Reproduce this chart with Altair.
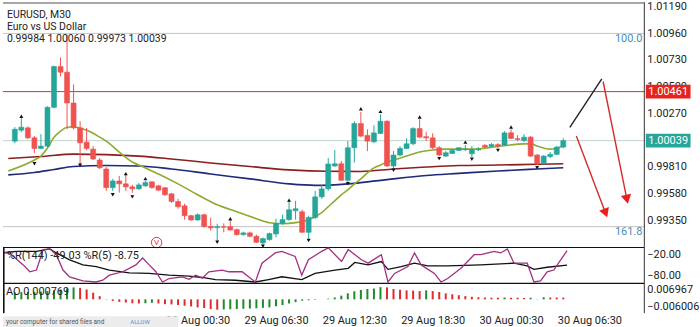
import altair as alt
import pandas as pd

FONT = "Roboto"
TEAL = "#26a69a"
RED = "#ef5350"

# ---------------- candles (M30, bar index 0..84) ----------------
opens = [1.00035, 1.00129, 1.00149, 1.00063, 0.99972, 0.99992, 1.00326, 1.00677, 1.00628, 1.00363,
         1.00149, 1.00026, 0.99966, 0.99872, 0.99795, 0.99635, 0.99692, 0.99667, 0.99641, 0.99624,
         0.99650, 0.99684, 0.99650, 0.99633, 0.99581, 0.99515, 0.99478, 0.99393, 0.99356, 0.99401,
         0.99301, 0.99290, 0.99299, 0.99299, 0.99273, 0.99230, 0.99245, 0.99216, 0.99159, 0.99187,
         0.99236, 0.99327, 0.99359, 0.99436, 0.99427, 0.99250, 0.99376, 0.99555, 0.99624, 0.99821,
         0.99840, 0.99698, 0.99978, 1.00186, 1.00084, 1.00029, 1.00101, 1.00206, 0.99821, 0.99915,
         0.99972, 1.00012, 1.00143, 1.00073, 1.00063, 0.99978, 0.99906, 0.99929, 0.99955, 0.99962,
         0.99926, 0.99960, 0.99998, 0.99989, 1.00005, 1.00000, 1.00106, 1.00056, 1.00041, 1.00069,
         0.99915, 0.99840, 0.99902, 0.99921, 0.99984]
highs = [1.00155, 1.00232, 1.00163, 1.00078, 1.00095, 1.00334, 1.00685, 1.00754, 1.00950, 1.00523,
         1.00206, 1.00149, 0.99992, 0.99889, 0.99812, 0.99710, 0.99735, 0.99744, 0.99658, 0.99675,
         0.99692, 0.99692, 0.99658, 0.99641, 0.99590, 0.99538, 0.99496, 0.99401, 0.99413, 0.99410,
         0.99376, 0.99324, 0.99327, 0.99350, 0.99282, 0.99256, 0.99256, 0.99230, 0.99205, 0.99247,
         0.99367, 0.99401, 0.99521, 0.99521, 0.99444, 0.99393, 0.99607, 0.99658, 0.99889, 0.99958,
         0.99864, 1.00035, 1.00206, 1.00285, 1.00137, 1.00172, 1.00266, 1.00214, 0.99949, 0.99992,
         1.00060, 1.00155, 1.00223, 1.00112, 1.00103, 0.99992, 0.99949, 0.99966, 0.99983, 1.00001,
         0.99992, 0.99983, 1.00009, 1.00018, 1.00018, 1.00120, 1.00137, 1.00086, 1.00095, 1.00078,
         0.99923, 0.99915, 0.99941, 0.99992, 1.00060]
lows = [1.00018, 1.00112, 1.00052, 0.99932, 0.99966, 0.99983, 1.00317, 1.00591, 1.00137, 1.00137,
        0.99838, 0.99955, 0.99872, 0.99795, 0.99607, 0.99607, 0.99592, 0.99607, 0.99590, 0.99615,
        0.99641, 0.99624, 0.99607, 0.99564, 0.99504, 0.99453, 0.99359, 0.99350, 0.99350, 0.99290,
        0.99264, 0.99173, 0.99250, 0.99264, 0.99222, 0.99222, 0.99205, 0.99160, 0.99145, 0.99179,
        0.99207, 0.99316, 0.99350, 0.99359, 0.99247, 0.99196, 0.99367, 0.99538, 0.99607, 0.99812,
        0.99692, 0.99684, 0.99849, 1.00069, 0.99949, 1.00018, 1.00095, 0.99812, 0.99804, 0.99906,
        0.99966, 1.00000, 1.00060, 1.00035, 0.99966, 0.99906, 0.99898, 0.99923, 0.99949, 0.99949,
        0.99898, 0.99949, 0.99975, 0.99983, 0.99975, 0.99992, 1.00052, 1.00035, 1.00026, 0.99898,
        0.99829, 0.99838, 0.99889, 0.99915, 0.99973]
closes = [1.00137, 1.00155, 1.00063, 0.99972, 0.99992, 1.00326, 1.00677, 1.00628, 1.00363, 1.00149,
          1.00020, 0.99972, 0.99881, 0.99806, 0.99635, 0.99692, 0.99667, 0.99641, 0.99624, 0.99658,
          0.99678, 0.99635, 0.99613, 0.99573, 0.99515, 0.99470, 0.99393, 0.99356, 0.99401, 0.99299,
          0.99288, 0.99299, 0.99294, 0.99270, 0.99230, 0.99245, 0.99216, 0.99164, 0.99196, 0.99239,
          0.99327, 0.99359, 0.99444, 0.99453, 0.99250, 0.99378, 0.99555, 0.99624, 0.99838, 0.99840,
          0.99698, 0.99978, 1.00186, 1.00078, 1.00035, 1.00106, 1.00206, 0.99821, 0.99915, 0.99972,
          1.00012, 1.00143, 1.00069, 1.00063, 0.99978, 0.99915, 0.99935, 0.99955, 0.99978, 0.99968,
          0.99964, 0.99966, 0.99983, 1.00006, 0.99992, 1.00106, 1.00058, 1.00049, 1.00069, 0.99906,
          0.99840, 0.99906, 0.99921, 0.99983, 1.00039]

# fractal markers
up_idx = [1, 17, 20, 33, 42, 53, 56, 62, 69, 76]
up_px = [1.00249, 0.99755, 0.99712, 0.99367, 0.99527, 1.00313, 1.00291, 1.00243, 1.00026, 1.00157]
down_idx = [3, 10, 15, 18, 31, 38, 45, 51, 58, 65, 70, 74, 80]
down_px = [0.99840, 0.99827, 0.99573, 0.99555, 0.99164, 0.99130, 0.99179, 0.99669, 0.99784,
           0.99884, 0.99878, 0.99955, 0.99806]

# moving averages
ma_fast_idx = [-1, 3, 4, 5, 6, 7, 8, 9, 10, 11, 12, 13, 14, 16, 18, 20, 22, 25, 28, 31,
               34, 37, 39, 41, 43, 45, 46, 47, 48, 49, 50, 51, 52, 53, 54, 55, 56, 57, 58, 60,
               62, 64, 66, 70, 74, 77, 79, 80, 81, 82, 83, 84]
ma_fast_val = [0.99778, 0.99872, 0.99906, 0.99975, 1.00069, 1.00120, 1.00154, 1.00158, 1.00146, 1.00129,
               1.00103, 1.00069, 1.00035, 0.99941, 0.99855, 0.99804, 0.99752, 0.99667, 0.99573, 0.99487,
               0.99427, 0.99367, 0.99333, 0.99324, 0.99333, 0.99359, 0.99384, 0.99419, 0.99470, 0.99521,
               0.99573, 0.99615, 0.99667, 0.99710, 0.99761, 0.99804, 0.99829, 0.99855, 0.99872, 0.99906,
               0.99941, 0.99958, 0.99966, 0.99966, 0.99988, 1.00009, 1.00013, 0.99992, 0.99975, 0.99966,
               0.99975, 0.99992]
ma_mid_idx = [-1, 4, 9, 14, 19, 24, 30, 36, 42, 48, 53, 58, 63, 68, 74, 80, 84]
ma_mid_val = [0.99885, 0.99902, 0.99923, 0.99919, 0.99906, 0.99881, 0.99847, 0.99816, 0.99787,
              0.99775, 0.99774, 0.99795, 0.99812, 0.99825, 0.99829, 0.99836, 0.99840]
ma_slow_idx = [-1, 3, 6, 9, 14, 19, 24, 30, 36, 42, 46, 51, 56, 63, 68, 74, 80, 84]
ma_slow_val = [0.99744, 0.99765, 0.99791, 0.99816, 0.99825, 0.99821, 0.99795, 0.99752, 0.99710,
               0.99667, 0.99654, 0.99667, 0.99697, 0.99739, 0.99757, 0.99778, 0.99795, 0.99806]

# horizontal levels (fib 100.0, resistance, current price, fib 161.8)
level_px = [1.00962, 1.00461, 1.00039, 0.99299]
level_col = ["#c4c4c4", "#d32f2f", "#bcd4d1", "#c4c4c4"]

# hand-drawn arrows
arrow_black_i = [85.0, 89.9]
arrow_black_p = [1.00154, 1.00571]
arrow_r1_i = [90.1, 93.7]
arrow_r1_p = [1.00548, 0.99547]
arrow_r2_i = [86.0, 90.4]
arrow_r2_p = [1.00078, 0.99427]
head_i = [93.7, 90.4]
head_p = [0.99547, 0.99427]
head_ang = [168, 159]

# price tags
tag_px = [1.00461, 1.00039]
tag_txt = ["1.00461", "1.00039"]
tag_col = ["#e5231f", "#26a69a"]

# Williams %R
wr5_idx = [-1, 0, 2, 3, 4, 5, 6, 7, 8, 9, 11, 13, 14, 15, 17, 19, 20, 21, 22, 23,
           24, 26, 27, 28, 29, 30, 32, 33, 35, 37, 38, 40, 41, 43, 44, 45, 47, 48, 50, 51,
           53, 54, 56, 57, 58, 60, 61, 62, 64, 65, 66, 68, 70, 71, 73, 74, 75, 76, 78, 79,
           80, 81, 82, 84]
wr5_val = [-13.4, -16.3, -48.6, -67.7, -62.9, -5.7, -3.7, -20, -62.9, -82,
           -93.4, -96.3, -91.4, -77.1, -67.7, -48.6, -29.4, -48.6, -67.7, -96.3,
           -86.6, -82, -88.6, -77.1, -85.7, -67.7, -62.9, -67.7, -67.7, -96.3,
           -43.7, -15.1, -10.6, -24.9, -77.1, -34.3, -10.6, -0.9, -39.1, -5.7,
           -34.3, -43.7, -20, -96.3, -72.3, -53.4, -15.1, -48.6, -72.3, -96.3,
           -86.6, -58, -20, -20, -10.6, -15.1, -3.7, -43.7, -43.7, -96.3,
           -93.4, -67.7, -62.9, -8.75]
wr144_idx = [-1, 1, 4, 6, 7, 9, 11, 13, 15, 18, 21, 24, 27, 29, 31, 34, 37, 39, 41, 44,
             46, 49, 51, 52, 54, 56, 57, 59, 61, 63, 66, 71, 74, 76, 78, 79, 81, 84]
wr144_val = [-14.6, -10.9, -10.9, -3.7, -15.1, -34.3, -48.6, -53.4, -62.9, -70.6,
             -72.3, -77.1, -80, -83.7, -89.4, -91.4, -96.3, -89.4, -81.7, -89.4,
             -72.3, -62.9, -58, -41.7, -48.6, -39.1, -60.9, -53.4, -43.7, -51.4,
             -51.4, -48.6, -45.7, -43.7, -51.4, -60.9, -55.1, -49.03]
wr_ticks = [-20, -80]

# Awesome Oscillator
ao_vals = [0.0030, 0.0031, 0.0032, 0.0033, 0.0034, 0.0036, 0.0039, 0.0043, 0.0047, 0.0052,
           0.0050, 0.0043, 0.0029, 0.0014, 0.0001, -0.0007, -0.0011, -0.0014, -0.0017, -0.0018,
           -0.0017, -0.0015, -0.0018, -0.0021, -0.0022, -0.0025, -0.0028, -0.0031, -0.0035, -0.0038,
           -0.0042, -0.0045, -0.0044, -0.0043, -0.0042, -0.0041, -0.0040, -0.0039, -0.0037, -0.0035,
           -0.0030, -0.0025, -0.0018, -0.0012, -0.0006, -0.0004, -0.0002, 0.0000, 0.0003, 0.0008,
           0.0016, 0.0026, 0.0035, 0.0041, 0.0045, 0.0047, 0.0053, 0.0052, 0.0045, 0.0042,
           0.0039, 0.0038, 0.0036, 0.0039, 0.0036, 0.0032, 0.0026, 0.0022, 0.0018, 0.0014,
           0.0011, 0.0009, 0.0008, 0.0007, 0.0007, 0.0008, 0.0007, 0.0007, 0.0006, 0.0007,
           0.0001, 0.0009, 0.0008, 0.0008, 0.000769]
ao_top, ao_bottom = 0.006967, -0.006006

# axis ticks / labels
tick_idx = [28, 40, 52, 64, 76, 88]
tick_lbl = ["29 Aug 00:30", "29 Aug 06:30", "29 Aug 12:30",
            "29 Aug 18:30", "30 Aug 00:30", "30 Aug 06:30"]
price_ticks = [0.99350, 0.99580, 0.99810, 1.00040, 1.00270, 1.00500, 1.00730, 1.00960, 1.01190]

# ---------------- layout constants ----------------
W, H_MAIN, H_WR, H_AO = 645, 247, 36, 30
LBL_X = 648
X_SCALE = alt.Scale(domain=[-1.05, 95.65], nice=False, zero=False)
P_SCALE = alt.Scale(domain=[0.99119, 1.01233], nice=False, zero=False)
WR_SCALE = alt.Scale(domain=[-100, 0], nice=False, zero=False)
AO_SCALE = alt.Scale(domain=[ao_bottom, ao_top], nice=False, zero=False)
NOCOL = alt.Color("col:N", scale=None, legend=None)


def X(field="i", axis=None):
    return alt.X(f"{field}:Q", scale=X_SCALE, axis=axis)


def PY(field):
    return alt.Y(f"{field}:Q", scale=P_SCALE, axis=None)


def label(text, x, y, size=11, color="#222", align="left"):
    return alt.Chart(pd.DataFrame({"t": [text]})).mark_text(
        align=align, baseline="middle", font=FONT, fontSize=size, color=color
    ).encode(text="t:N", x=alt.value(x), y=alt.value(y))


def hline(y, color, width=1.0, x1=0, x2=W):
    return alt.Chart(pd.DataFrame({"a": [0]})).mark_rule(color=color, strokeWidth=width).encode(
        x=alt.value(x1), x2=alt.value(x2), y=alt.value(y))


def vline(x, y1, y2, color, width=1.0):
    return alt.Chart(pd.DataFrame({"a": [0]})).mark_rule(color=color, strokeWidth=width).encode(
        x=alt.value(x), y=alt.value(y1), y2=alt.value(y2))


def axis_labels(values, scale, fmt, baseline="middle", dy=0):
    return alt.Chart(pd.DataFrame({"v": values})).mark_text(
        align="left", baseline=baseline, dy=dy, font=FONT, fontSize=11, color="#222"
    ).encode(x=alt.value(LBL_X), y=alt.Y("v:Q", scale=scale, axis=None),
             text=alt.Text("v:Q", format=fmt))


# ---------------- main price panel ----------------
candles = pd.DataFrame({"i": list(range(len(opens))), "o": opens, "h": highs, "l": lows, "c": closes})
candles["col"] = [TEAL if c >= o else RED for o, c in zip(opens, closes)]

levels = alt.Chart(pd.DataFrame({"p": level_px, "col": level_col})).mark_rule(strokeWidth=1).encode(
    y=PY("p"), color=NOCOL)

ma_df = pd.concat([
    pd.DataFrame({"i": ma_slow_idx, "p": ma_slow_val, "name": "slow", "col": "#1f2a78"}),
    pd.DataFrame({"i": ma_mid_idx, "p": ma_mid_val, "name": "mid", "col": "#8a1f1f"}),
    pd.DataFrame({"i": ma_fast_idx, "p": ma_fast_val, "name": "fast", "col": "#8dab2f"}),
])
mas = alt.Chart(ma_df).mark_line(strokeWidth=1.6, interpolate="monotone").encode(
    x=X(), y=PY("p"), color=NOCOL, detail="name:N", order="i:Q")

grid_x = alt.Axis(values=tick_idx, labels=False, ticks=False, domain=False, grid=True,
                  gridColor="#efefef", title=None)
grid_y = alt.Axis(values=price_ticks, labels=False, ticks=False, domain=False, grid=True,
                  gridColor="#efefef", title=None)
wicks = alt.Chart(candles).mark_rule(strokeWidth=1).encode(
    x=X("i", grid_x), y=alt.Y("l:Q", scale=P_SCALE, axis=grid_y), y2="h:Q", color=NOCOL)
bodies = alt.Chart(candles).mark_bar(size=5, strokeWidth=0.6).encode(
    x=X(), y=PY("o"), y2="c:Q", color=NOCOL, stroke=alt.Stroke("col:N", scale=None, legend=None))

fr_up = alt.Chart(pd.DataFrame({"i": up_idx, "p": up_px})).mark_point(
    shape="triangle-up", filled=True, size=16, color="#111", opacity=1).encode(x=X(), y=PY("p"))
fr_dn = alt.Chart(pd.DataFrame({"i": down_idx, "p": down_px})).mark_point(
    shape="triangle-down", filled=True, size=16, color="#111", opacity=1).encode(x=X(), y=PY("p"))

arrows_df = pd.concat([
    pd.DataFrame({"i": arrow_black_i, "p": arrow_black_p, "g": "b", "col": "#222"}),
    pd.DataFrame({"i": arrow_r1_i, "p": arrow_r1_p, "g": "r1", "col": "#d42a2a"}),
    pd.DataFrame({"i": arrow_r2_i, "p": arrow_r2_p, "g": "r2", "col": "#d42a2a"}),
])
arrows = alt.Chart(arrows_df).mark_line(strokeWidth=1.4).encode(
    x=X(), y=PY("p"), color=NOCOL, detail="g:N", order="i:Q")
heads = alt.Chart(pd.DataFrame({"i": head_i, "p": head_p, "a": head_ang})).mark_point(
    shape="triangle", filled=True, size=110, color="#ee1c1c", opacity=1).encode(
    x=X(), y=PY("p"), angle=alt.Angle("a:Q", scale=None))

vmark = alt.Chart(pd.DataFrame({"a": [0]})).mark_point(
    shape="circle", filled=False, size=110, color="#d33", strokeWidth=1, opacity=1).encode(
    x=alt.value(154.5), y=alt.value(242))
vtext = label("V", 154.5, 242.5, size=8, color="#d33", align="center")

TAG = "M-1,-0.31L1,-0.31L1,0.31L-1,0.31Z"
tags_df = pd.DataFrame({"p": tag_px, "t": tag_txt, "col": tag_col})
tag_box = alt.Chart(tags_df).mark_point(shape=TAG, filled=True, size=2025, opacity=1).encode(
    x=alt.value(669), y=PY("p"), color=NOCOL)
tag_text = alt.Chart(tags_df).mark_text(font=FONT, fontSize=11, color="white", align="center",
                                        baseline="middle").encode(
    x=alt.value(669), y=PY("p"), text="t:N")

main = alt.layer(
    levels, mas, wicks, bodies, fr_up, fr_dn, arrows, heads, vmark, vtext,
    label("EURUSD, M30", 4, 13, size=10.5),
    label("Euro vs US Dollar", 4, 25, size=10.5),
    label("0.99984 1.00060 0.99973 1.00039", 4, 37, size=10.5),
    label("100.0", 643, 37, size=11, color="#4a8bbd", align="right"),
    label("161.8", 643, 231, size=11, color="#4a8bbd", align="right"),
    axis_labels(price_ticks, P_SCALE, ".5f"),
    vline(W, 0, H_MAIN, "#333", 1),
    tag_box, tag_text,
    hline(1, "#8a8a8a", 1.5),
    hline(H_MAIN, "#111", 1.2),
).properties(width=W, height=H_MAIN)

# ---------------- Williams %R panel ----------------
wr144 = alt.Chart(pd.DataFrame({"i": wr144_idx, "v": wr144_val})).mark_line(
    strokeWidth=1.3, color="#111").encode(x=X(), y=alt.Y("v:Q", scale=WR_SCALE, axis=None))
wr5 = alt.Chart(pd.DataFrame({"i": wr5_idx, "v": wr5_val})).mark_line(
    strokeWidth=1.3, color="#a2307f").encode(x=X(), y=alt.Y("v:Q", scale=WR_SCALE, axis=None))
wr = alt.layer(
    wr144, wr5,
    label("%R(144) -49.03 %R(5) -8.75", 4, 9, size=11),
    axis_labels(wr_ticks, WR_SCALE, ".2f"),
    vline(W, 0, H_WR, "#333", 1),
    vline(0.8, 0, H_WR, "#111", 1.6),
    hline(H_WR, "#111", 1.2),
).properties(width=W, height=H_WR)

# ---------------- Awesome Oscillator panel ----------------
ao_df = pd.DataFrame({"i": list(range(len(ao_vals))), "v": ao_vals})
ao_df["col"] = ["#1f8a2a" if (k == 0 or v > ao_vals[k - 1]) else "#e02b2b" for k, v in enumerate(ao_vals)]
lbl_expr = " : ".join(f"datum.value == {v} ? '{t}'" for v, t in zip(tick_idx, tick_lbl)) + " : ''"
time_axis = alt.Axis(values=tick_idx, labelExpr=lbl_expr, ticks=False, domain=False, grid=False,
                     labelFont=FONT, labelFontSize=11, labelColor="#222", labelPadding=1,
                     labelOverlap=False, labelFlush=False, title=None)
ao_bars = alt.Chart(ao_df).mark_bar(size=2).encode(
    x=X("i", time_axis), y=alt.Y("v:Q", scale=AO_SCALE, axis=None), y2=alt.datum(0), color=NOCOL)

overlay = alt.Chart(pd.DataFrame({"a": [0]})).mark_rect(color="#ececec").encode(
    x=alt.value(0), x2=alt.value(176), y=alt.value(33), y2=alt.value(44))

ao = alt.layer(
    ao_bars,
    label("AO 0.000769", 3, 9, size=11),
    axis_labels([ao_top], AO_SCALE, ".6f", baseline="top", dy=1),
    axis_labels([ao_bottom], AO_SCALE, ".6f", baseline="bottom", dy=-1),
    vline(W, 0, H_AO, "#333", 1),
    vline(0.8, 0, H_AO, "#111", 1.6),
    overlay,
    label("your computer for shared files and", 3, 38.5, size=6.5, color="#555"),
    label("ALLOW", 128, 38.5, size=6, color="#5b8fd9"),
).properties(width=W, height=H_AO)

chart = alt.vconcat(main, wr, ao, spacing=0, bounds="flush").resolve_scale(
    x="independent", y="independent"
).properties(
    padding={"left": 0, "top": 0, "right": 0, "bottom": 0}, background="white"
).configure_view(stroke=None)

chart.save("out.html", embed_options={"renderer": "svg", "actions": False})
